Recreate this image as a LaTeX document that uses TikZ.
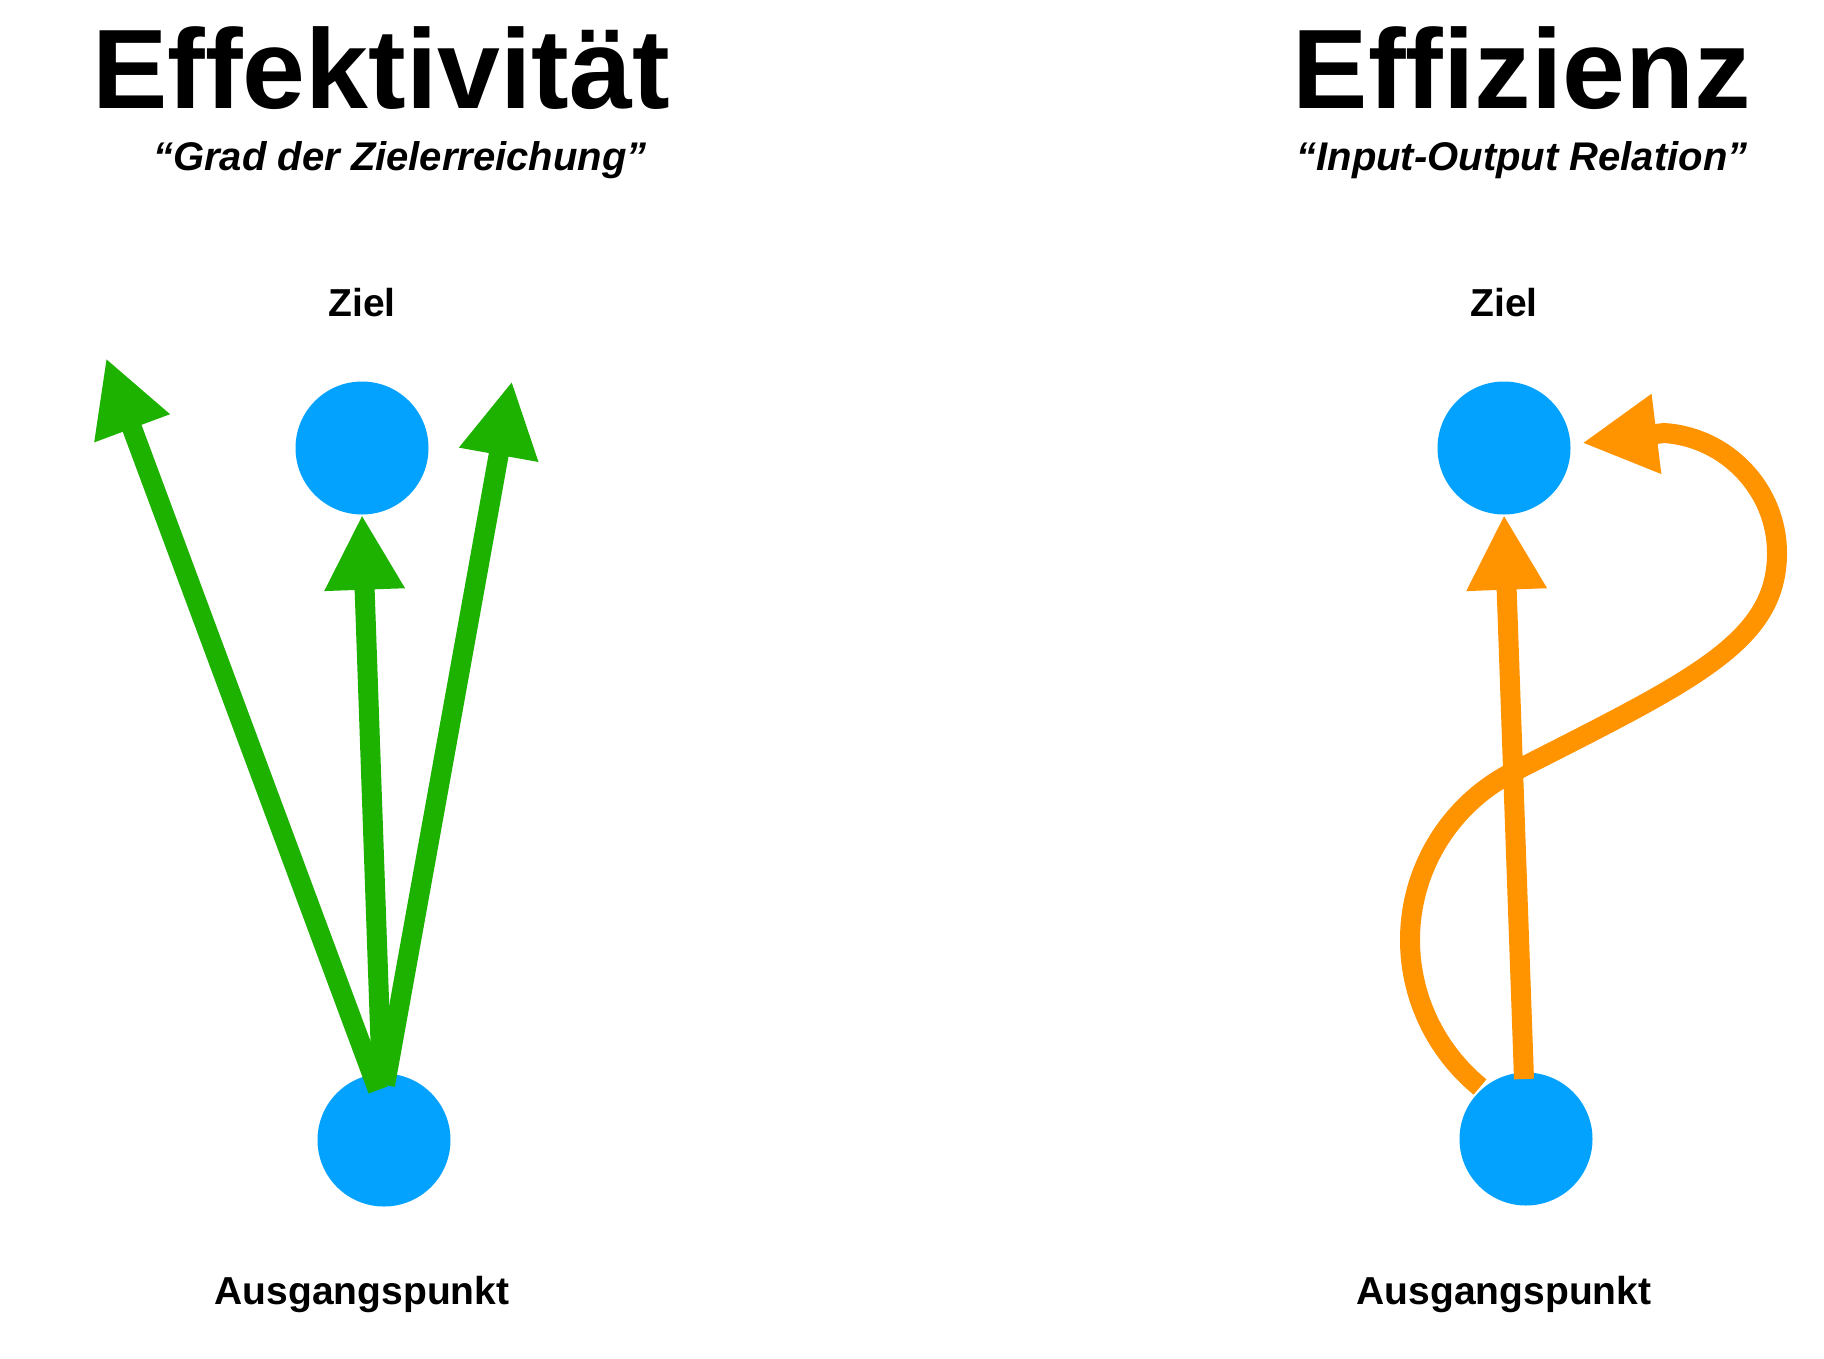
\documentclass[tikz,border=0pt]{standalone}
\usepackage{fontspec}
\setmainfont{Liberation Sans}[Ligatures=CommonOff]
\usetikzlibrary{arrows.meta}

\definecolor{spotblue}{HTML}{04A2FF}
\definecolor{reachgreen}{HTML}{1DB100}
\definecolor{effortorange}{HTML}{FF9300}

\begin{document}
\begin{tikzpicture}[
  x=1pt, y=-1pt,
  font=\bfseries,
  headline/.style={anchor=base, font=\bfseries\fontsize{113}{113}\selectfont},
  motto/.style={anchor=base, font=\bfseries\itshape\fontsize{40}{40}\selectfont},
  pointname/.style={anchor=base, font=\bfseries\fontsize{39}{39}\selectfont},
  spot/.style={circle, fill=spotblue, minimum size=133pt, inner sep=0pt},
  reach/.style={-{Triangle[length=75pt, width=75pt]}, line width=20pt, draw=reachgreen},
  effort/.style={-{Triangle[length=75pt, width=75pt]}, line width=20pt, draw=effortorange}
]
\useasboundingbox (0,0) rectangle (1824,1358);

\node[headline] (titleE) at (381,108) {Effektivität};
\node[motto] (mottoE) at (400,170) {“Grad der Zielerreichung”};
\node[headline] (titleF) at (1522,108) {Effizienz};
\node[motto] (mottoF) at (1522,170) {“Input-Output Relation”};

\node[pointname] (zielTextE) at (362,316) {Ziel};
\node[pointname] (startTextE) at (362,1304) {Ausgangspunkt};
\node[pointname] (zielTextF) at (1504,316) {Ziel};
\node[pointname] (startTextF) at (1504,1304) {Ausgangspunkt};

\node[spot] (zielE) at (362,448) {};
\node[spot] (startE) at (384,1140) {};
\node[spot] (zielF) at (1504,448) {};
\node[spot] (startF) at (1526,1139) {};

\coordinate (fromLeft) at (378,1090);
\coordinate (fromMid) at (382,1085);
\coordinate (fromRight) at (385,1085);
\coordinate (leftTip) at (106,358);
\coordinate (rightTip) at (512,381);

\coordinate (fromStraight) at (1524,1079);
\coordinate (fromCurve) at (1480,1087);
\coordinate (curveTip) at (1582,443);

\draw[reach] (fromLeft) -- (leftTip);
\draw[reach] (fromMid) -- (zielE.south);
\draw[reach] (fromRight) -- (rightTip);

\draw[effort] (fromStraight) -- (zielF.south);
\draw[effort] (fromCurve) .. controls (1436,1051) and (1410,997) .. (1410,940)
  .. controls (1410,869) and (1450,804) .. (1513,772)
  .. controls (1691,681) and (1777,643) .. (1777,553)
  .. controls (1777,490) and (1727,437) .. (1664,433)
  -- (curveTip);

\end{tikzpicture}
\end{document}
